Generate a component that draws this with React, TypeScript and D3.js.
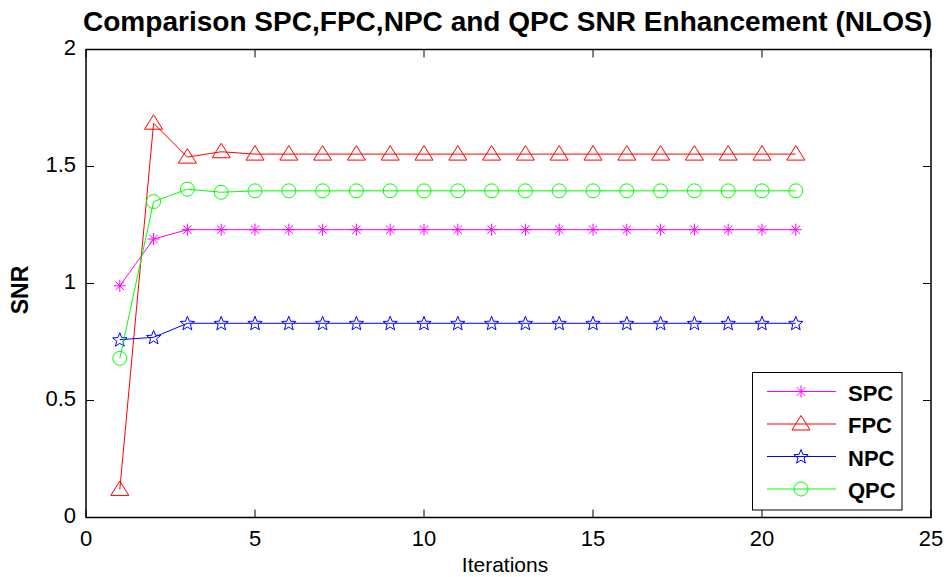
import React, { useEffect, useRef } from "react";
import * as d3 from "d3";

const iterations = d3.range(1, 22);
const spc = [0.99, 1.19, 1.23, 1.23, 1.23, 1.23, 1.23, 1.23, 1.23, 1.23, 1.23, 1.23, 1.23, 1.23, 1.23, 1.23, 1.23, 1.23, 1.23, 1.23, 1.23];
const fpc = [0.12, 1.685, 1.54, 1.563, 1.553, 1.553, 1.553, 1.553, 1.553, 1.553, 1.553, 1.553, 1.553, 1.553, 1.553, 1.553, 1.553, 1.553, 1.553, 1.553, 1.553];
const npc = [0.76, 0.77, 0.83, 0.83, 0.83, 0.83, 0.83, 0.83, 0.83, 0.83, 0.83, 0.83, 0.83, 0.83, 0.83, 0.83, 0.83, 0.83, 0.83, 0.83, 0.83];
const qpc = [0.68, 1.35, 1.403, 1.39, 1.396, 1.396, 1.396, 1.396, 1.396, 1.396, 1.396, 1.396, 1.396, 1.396, 1.396, 1.396, 1.396, 1.396, 1.396, 1.396, 1.396];
const xTicks = [0, 5, 10, 15, 20, 25];
const yTicks = [0, 0.5, 1, 1.5, 2];

const series = [
  { name: "SPC", values: spc, color: "#ff00ff", marker: "asterisk" },
  { name: "FPC", values: fpc, color: "#ff0000", marker: "triangle" },
  { name: "NPC", values: npc, color: "#0000ff", marker: "star" },
  { name: "QPC", values: qpc, color: "#00ff00", marker: "circle" },
];

function markerPath(kind: string): string {
  if (kind === "asterisk") {
    const r = 6, d = 4.3;
    return `M${-r},0L${r},0M0,${-r}L0,${r}M${-d},${-d}L${d},${d}M${-d},${d}L${d},${-d}`;
  }
  if (kind === "triangle") {
    return "M0,-8.5L9,6L-9,6Z";
  }
  if (kind === "star") {
    const pts: string[] = [];
    for (let i = 0; i < 10; i++) {
      const r = i % 2 === 0 ? 7.5 : 3.2;
      const a = -Math.PI / 2 + (i * Math.PI) / 5;
      pts.push(`${(r * Math.cos(a)).toFixed(2)},${(r * Math.sin(a) + 0.5).toFixed(2)}`);
    }
    return "M" + pts.join("L") + "Z";
  }
  const r = 7;
  return `M${r},0A${r},${r} 0 1,1 ${-r},0A${r},${r} 0 1,1 ${r},0Z`;
}

export default function App() {
  const ref = useRef<SVGSVGElement>(null);

  useEffect(() => {
    const svg = d3.select(ref.current);
    svg.selectAll("*").remove();

    const left = 86, right = 931, top = 49.5, bottom = 517.5;
    const x = d3.scaleLinear().domain([0, 25]).range([left, right]);
    const y = d3.scaleLinear().domain([0, 2]).range([bottom, top]);
    const font = "Liberation Sans, Arial, sans-serif";

    svg.append("rect").attr("width", 946).attr("height", 577).attr("fill", "#fff");

    // data
    const line = d3.line<number>().x((d, i) => x(iterations[i])).y(d => y(d));
    series.forEach(s => {
      svg.append("path").attr("d", line(s.values)).attr("fill", "none").attr("stroke", s.color).attr("stroke-width", 1);
      svg.selectAll(null).data(s.values).enter().append("path")
        .attr("d", markerPath(s.marker))
        .attr("transform", (d, i) => `translate(${x(iterations[i])},${y(d)})`)
        .attr("fill", "none").attr("stroke", s.color).attr("stroke-width", 1);
    });

    // axes box with ticks on all sides
    const tl = 8;
    const g = svg.append("g").attr("stroke", "#000").attr("stroke-width", 1);
    xTicks.forEach(t => {
      g.append("line").attr("x1", x(t)).attr("x2", x(t)).attr("y1", bottom).attr("y2", bottom - tl);
      g.append("line").attr("x1", x(t)).attr("x2", x(t)).attr("y1", top).attr("y2", top + tl);
    });
    yTicks.forEach(t => {
      g.append("line").attr("x1", left).attr("x2", left + tl).attr("y1", y(t)).attr("y2", y(t));
      g.append("line").attr("x1", right).attr("x2", right - tl).attr("y1", y(t)).attr("y2", y(t));
    });
    svg.append("rect").attr("x", left).attr("y", top).attr("width", right - left).attr("height", bottom - top)
      .attr("fill", "none").attr("stroke", "#000").attr("stroke-width", 1.5);

    svg.selectAll(null).data(xTicks).enter().append("text")
      .attr("x", d => x(d)).attr("y", bottom + 28.5).attr("text-anchor", "middle")
      .attr("font-family", font).attr("font-size", 22).text(d => d);
    svg.selectAll(null).data(yTicks).enter().append("text")
      .attr("x", left - 10).attr("y", d => y(d) + 5).attr("text-anchor", "end")
      .attr("font-family", font).attr("font-size", 22).text(d => d);

    svg.append("text").attr("x", 505).attr("y", 572).attr("text-anchor", "middle")
      .attr("font-family", font).attr("font-size", 21).text("Iterations");
    svg.append("text").attr("transform", `translate(28,290) rotate(-90)`).attr("text-anchor", "middle")
      .attr("font-family", font).attr("font-size", 23).attr("font-weight", "bold").text("SNR");
    svg.append("text").attr("x", 507.5).attr("y", 31).attr("text-anchor", "middle")
      .attr("font-family", font).attr("font-size", 27).attr("font-weight", "bold")
      .attr("textLength", 849).attr("lengthAdjust", "spacingAndGlyphs")
      .text("Comparison SPC,FPC,NPC and QPC SNR Enhancement (NLOS)");

    // legend
    const lg = svg.append("g");
    lg.append("rect").attr("x", 752.5).attr("y", 372.5).attr("width", 149.5).attr("height", 137.5)
      .attr("fill", "#fff").attr("stroke", "#000").attr("stroke-width", 1);
    series.forEach((s, i) => {
      const ly = 391.5 + i * 32.5;
      lg.append("line").attr("x1", 767).attr("x2", 836).attr("y1", ly).attr("y2", ly).attr("stroke", s.color).attr("stroke-width", 1);
      lg.append("path").attr("d", markerPath(s.marker)).attr("transform", `translate(801,${ly})`)
        .attr("fill", "none").attr("stroke", s.color).attr("stroke-width", 1);
      lg.append("text").attr("x", 848).attr("y", ly + 9).attr("font-family", font).attr("font-size", 22)
        .attr("font-weight", "bold").text(s.name);
    });
  }, []);

  return <svg ref={ref} width={946} height={577} style={{ display: "block", position: "absolute", left: 0, top: 0 }} />;
}
